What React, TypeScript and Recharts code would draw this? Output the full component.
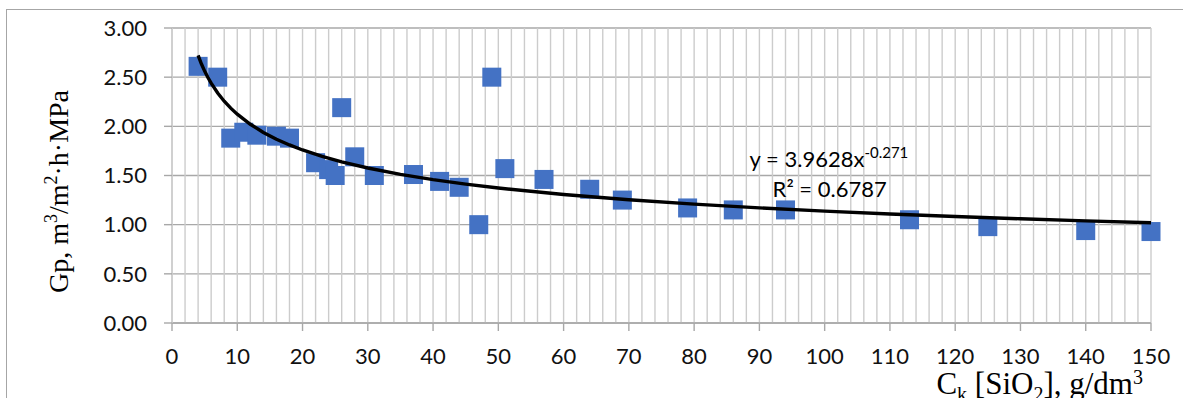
import React from "react";
import { ScatterChart, Scatter, XAxis, YAxis, CartesianGrid, ReferenceDot, ReferenceLine } from "recharts";

// Measured data: C_k [SiO2] (g/dm3) vs Gp
const ckValues = [4, 7, 9, 11, 13, 16, 18, 22, 24, 25, 26, 28, 31, 37, 41, 44, 47, 49, 51, 57, 64, 69, 79, 86, 94, 113, 125, 140, 150];
const gpValues = [2.61, 2.5, 1.88, 1.94, 1.91, 1.9, 1.88, 1.63, 1.56, 1.5, 2.19, 1.69, 1.5, 1.51, 1.44, 1.38, 1.0, 2.5, 1.57, 1.46, 1.36, 1.25, 1.17, 1.15, 1.15, 1.05, 0.98, 0.94, 0.93];

// Power trendline shown on the chart: y = 3.9628 x^-0.271
const trendCoef = 3.9628;
const trendExp = -0.271;
const trendX = [4, 4.5, 5, 5.5, 6, 7, 8, 9, 10, 12, 14, 16, 18, 20, 23, 26, 30, 35, 40, 45, 50, 60, 70, 80, 90, 100, 110, 120, 130, 140, 150];

const xTicks = [0, 10, 20, 30, 40, 50, 60, 70, 80, 90, 100, 110, 120, 130, 140, 150];
const xMinorTicks = Array.from({ length: 76 }, (_, i) => i * 2);
const yTicks = [0, 0.5, 1, 1.5, 2, 2.5, 3];

const points = ckValues.map((x, i) => ({ x, y: gpValues[i] }));
const trend = trendX.map((x) => ({ x, y: trendCoef * Math.pow(x, trendExp) }));

const TICK_FONT = "Lato, 'Open Sans', sans-serif";
const SERIF = "'Liberation Serif', 'DejaVu Serif', serif";

const SquareShape = (props: any) => {
  const { cx, cy } = props;
  if (cx == null || cy == null) return <g />;
  return <rect x={cx - 9.5} y={cy - 9.5} width={19} height={19} fill="#4472C4" />;
};

const NoShape = () => <g />;

const YLabel = (props: any) => {
  const vb = props.viewBox || { x: 72, y: 28, width: 100, height: 295 };
  const bx = vb.x - 4;
  const cy = vb.y + vb.height / 2 + 16;
  return (
    <text
      x={bx}
      y={cy}
      transform={`rotate(-90 ${bx} ${cy})`}
      textAnchor="middle"
      fontFamily={SERIF}
      fontSize={28}
      fill="#000"
    >
      <tspan>Gp, m</tspan>
      <tspan fontSize={18} dy={-11}>3</tspan>
      <tspan dy={11}>/m</tspan>
      <tspan fontSize={18} dy={-11}>2</tspan>
      <tspan dy={11}>·h·MPa</tspan>
    </text>
  );
};

const XLabel = (props: any) => {
  const vb = props.viewBox || { x: 172, y: 323, width: 979, height: 75 };
  const ex = vb.x + vb.width - 8;
  const by = vb.y + 71;
  return (
    <text x={ex} y={by} textAnchor="end" fontFamily={SERIF} fontSize={31} fill="#000">
      <tspan>C</tspan>
      <tspan fontSize={20} dy={7}>k</tspan>
      <tspan dy={-7}> [SiO</tspan>
      <tspan fontSize={20} dy={7}>2</tspan>
      <tspan dy={-7}>], g/dm</tspan>
      <tspan fontSize={20} dy={-10}>3</tspan>
    </text>
  );
};

const EquationLabel = (props: any) => {
  const vb = props.viewBox || { x: 750, y: 160 };
  const x0 = vb.x + (vb.width || 0) / 2;
  const y0 = vb.y + (vb.height || 0) / 2;
  return (
    <g fontFamily={TICK_FONT} fill="#000">
      <text x={x0} y={y0 + 7} fontSize={22}>
        <tspan>y = 3.9628x</tspan>
        <tspan fontSize={15} dy={-9}>-0.271</tspan>
      </text>
      <text x={x0 + 23} y={y0 + 37} fontSize={22}>
        R² = 0.6787
      </text>
    </g>
  );
};

export default function App() {
  return (
    <div style={{ position: "absolute", left: 0, top: 0, width: 1183, height: 398, overflow: "hidden", background: "#fff" }}>
      <div
        style={{
          position: "absolute",
          left: 6,
          top: 9,
          width: 1300,
          height: 500,
          borderLeft: "1.5px solid #A6A6A6",
          borderTop: "1.5px solid #A6A6A6",
        }}
      />
      <div style={{ position: "absolute", left: 0, top: 0 }}>
        <ScatterChart width={1183} height={398} margin={{ top: 28, right: 32, bottom: 0, left: 72 }}>
          {xMinorTicks.map((v) => (
            <ReferenceLine key={`vx${v}`} x={v} stroke="#CCCCCC" strokeWidth={1.4} />
          ))}
          <CartesianGrid vertical={false} stroke="#A8A8A8" strokeWidth={1.4} />
          <XAxis
            type="number"
            dataKey="x"
            domain={[0, 150]}
            ticks={xTicks}
            height={75}
            tickSize={8}
            tickMargin={17}
            axisLine={{ stroke: "#A8A8A8", strokeWidth: 1.4 }}
            tickLine={{ stroke: "#A8A8A8", strokeWidth: 1.4 }}
            tick={{ fontFamily: TICK_FONT, fontSize: 22, fill: "#111" }}
            label={{ content: XLabel }}
          />
          <YAxis
            type="number"
            dataKey="y"
            domain={[0, 3]}
            ticks={yTicks}
            width={100}
            tickSize={8}
            tickMargin={17}
            axisLine={{ stroke: "#CCCCCC", strokeWidth: 1.4 }}
            tickLine={{ stroke: "#A8A8A8", strokeWidth: 1.4 }}
            tick={{ fontFamily: TICK_FONT, fontSize: 22, fill: "#111" }}
            tickFormatter={(v: number) => v.toFixed(2)}
            label={{ content: YLabel }}
          />
          <Scatter data={points} shape={SquareShape} isAnimationActive={false} />
          <Scatter
            data={trend}
            shape={NoShape}
            line={{ stroke: "#000", strokeWidth: 3.4 }}
            lineType="joint"
            isAnimationActive={false}
          />
          <ReferenceDot
            x={88.5}
            y={1.66}
            r={1}
            fill="none"
            stroke="none"
            label={{ content: EquationLabel }}
          />
        </ScatterChart>
      </div>
    </div>
  );
}
